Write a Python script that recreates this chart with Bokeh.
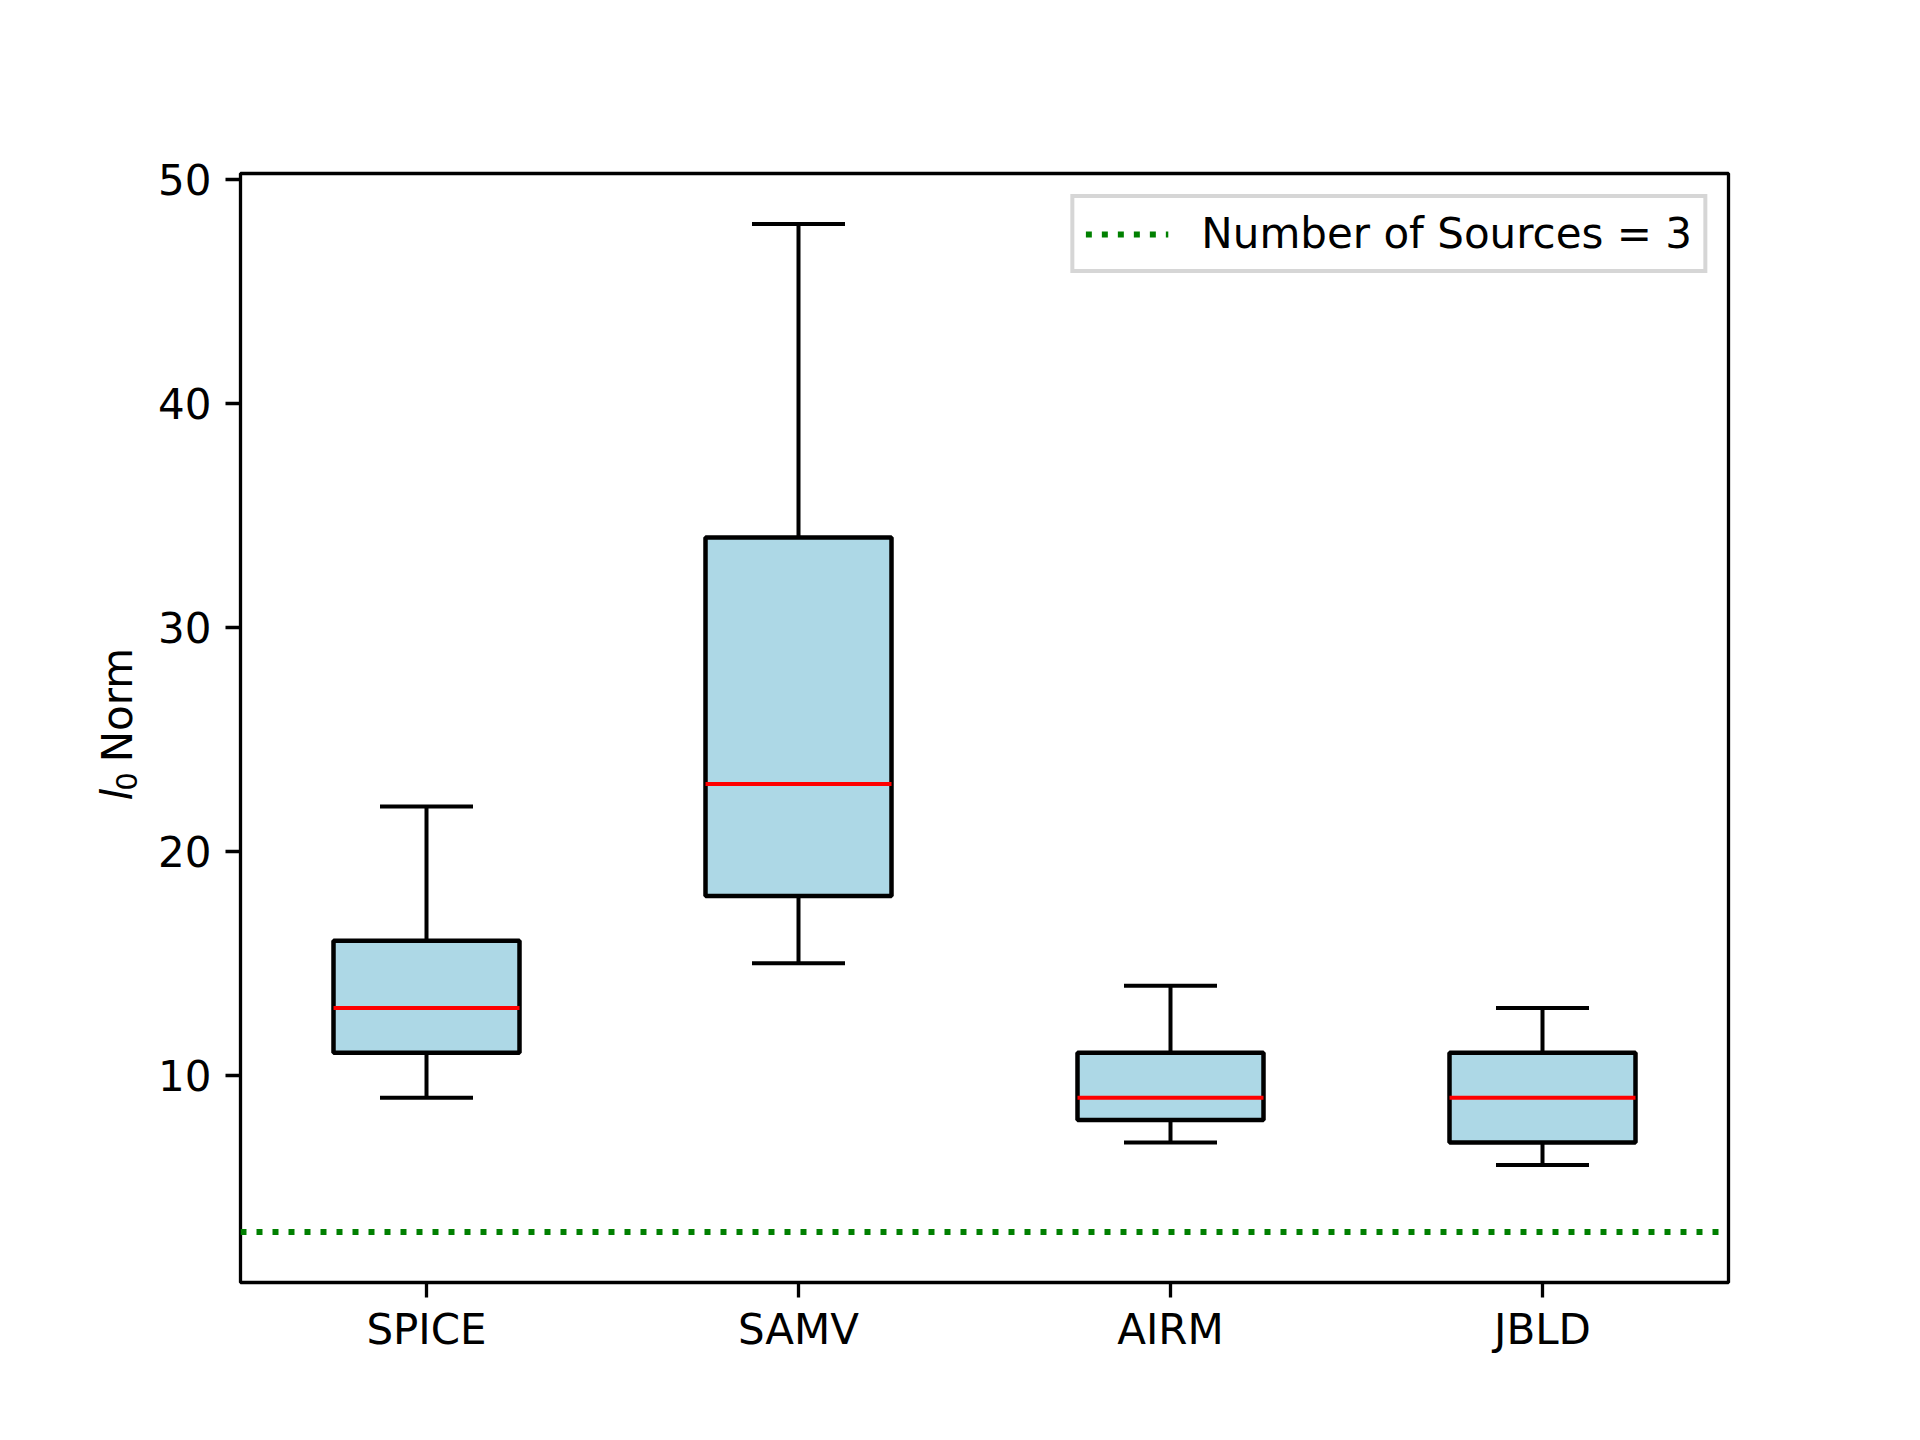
import math
from bokeh.plotting import figure
from bokeh.layouts import row
from bokeh.models import Range1d, FixedTicker, Legend, LegendItem
from bokeh.core.properties import value
from bokeh.embed import file_html
from bokeh.resources import INLINE

# ---- data ----
methods = ["SPICE", "SAMV", "AIRM", "JBLD"]
positions = [1, 2, 3, 4]
whisker_low = [9, 15, 7, 6]
q1 = [11, 18, 8, 7]
median = [13, 23, 9, 9]
q3 = [16, 34, 11, 11]
whisker_high = [22, 48, 14, 13]
n_sources = 3
y_ticks = [10, 20, 30, 40, 50]

FONT = "DejaVu Sans"
box_width = 0.5
cap_width = 0.25
x_lo, x_hi = 0.5, 4.5
y_lo, y_hi = 0.75, 50.25

FRAME_L, FRAME_T, FRAME_R, FRAME_B = 240, 173, 1728, 1282
W, H = 1904, 1424
LEFT_W = 150

p = figure(width=W - LEFT_W, height=H, output_backend="svg", toolbar_location=None,
           x_range=Range1d(x_lo, x_hi), y_range=Range1d(y_lo, y_hi),
           min_border_left=FRAME_L - LEFT_W, min_border_right=W - FRAME_R,
           min_border_top=FRAME_T, min_border_bottom=H - FRAME_B)
p.background_fill_color = "white"
p.border_fill_color = "white"
p.xgrid.visible = False
p.ygrid.visible = False
p.outline_line_color = "black"
p.outline_line_width = 3.3
p.outline_line_alpha = 1.0

for ax in (p.xaxis[0], p.yaxis[0]):
    ax.axis_line_color = None
    ax.major_tick_out = 15
    ax.major_tick_in = 0
    ax.major_tick_line_width = 3.3
    ax.major_tick_line_color = "black"
    ax.minor_tick_line_color = None
    ax.major_label_text_font = FONT
    ax.major_label_text_font_size = "42px"
    ax.major_label_text_color = "black"
p.xaxis.major_label_standoff = 7
p.yaxis.major_label_standoff = 14

p.xaxis.ticker = FixedTicker(ticks=positions)
p.xaxis.major_label_overrides = {pos: m for pos, m in zip(positions, methods)}
p.yaxis.ticker = FixedTicker(ticks=y_ticks)

# reference line
xs_line = [x_lo, x_hi]
ref = p.line(x=xs_line, y=[n_sources, n_sources], line_color="green",
             line_width=6, line_dash="6 10")

# boxes
p.vbar(x=positions, width=box_width, bottom=q1, top=q3,
       fill_color="#add8e6", line_color="black", line_width=4.5)
# whiskers
p.segment(x0=positions, y0=q3, x1=positions, y1=whisker_high, line_color="black", line_width=4)
p.segment(x0=positions, y0=q1, x1=positions, y1=whisker_low, line_color="black", line_width=4)
# caps
cx0 = [x - cap_width / 2 for x in positions]
cx1 = [x + cap_width / 2 for x in positions]
p.segment(x0=cx0, y0=whisker_high, x1=cx1, y1=whisker_high, line_color="black", line_width=4)
p.segment(x0=cx0, y0=whisker_low, x1=cx1, y1=whisker_low, line_color="black", line_width=4)
# medians
mx0 = [x - box_width / 2 for x in positions]
mx1 = [x + box_width / 2 for x in positions]
p.segment(x0=mx0, y0=median, x1=mx1, y1=median, line_color="red", line_width=4)

legend = Legend(items=[LegendItem(label="Number of Sources = 3", renderers=[ref])],
                location="top_right", margin=21, padding=11, spacing=0,
                glyph_width=83, glyph_height=36, label_height=36, label_standoff=33,
                label_text_font=FONT, label_text_font_size="42px", label_text_color="black",
                border_line_color="#cccccc", border_line_width=4, border_line_alpha=0.8,
                background_fill_color="white", background_fill_alpha=0.8)
p.add_layout(legend, "center")

# ---- y axis label panel: l_0 Norm (italic l, subscript 0), pixel coordinates ----
lab = figure(width=LEFT_W, height=H, output_backend="svg", toolbar_location=None,
             x_range=Range1d(0, LEFT_W), y_range=Range1d(H, 0),
             x_axis_type=None, y_axis_type=None, min_border=0)
lab.outline_line_color = None
lab.xgrid.visible = False
lab.ygrid.visible = False
lab.background_fill_color = "white"
lab.border_fill_color = "white"

common = dict(angle=math.pi / 2, text_align="right", text_baseline="alphabetic",
              text_font=value(FONT), text_color="black")
lab.text(x=[117], y=[790], text=["l"], text_font_size="42px",
         text_font_style="italic", **common)
lab.text(x=[126], y=[769], text=["0"], text_font_size="29px", **common)
lab.text(x=[117], y=[609], text=["Norm"], text_font_size="42px", **common)

layout = row(lab, p, spacing=0)
open("out.html", "w").write(file_html(layout, INLINE))
